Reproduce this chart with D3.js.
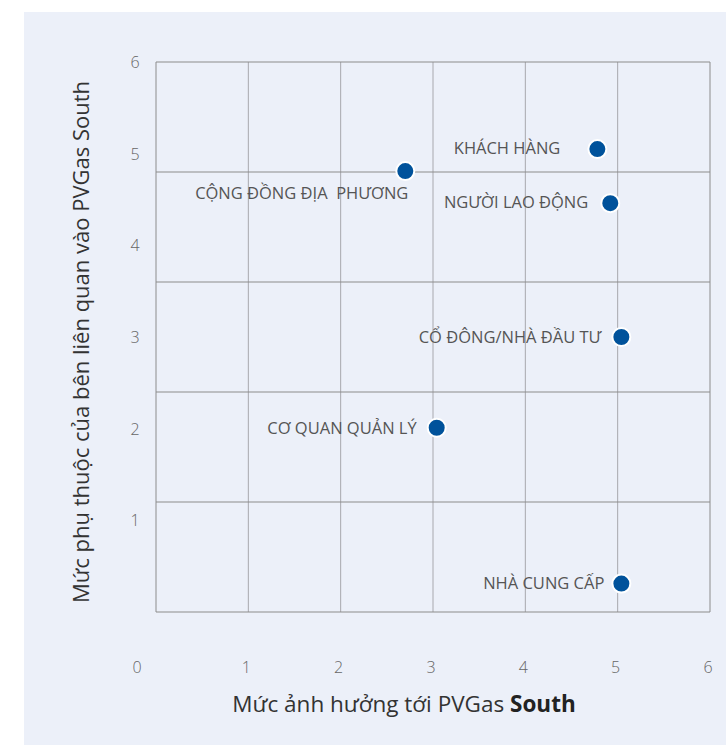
<!DOCTYPE html>
<html>
<head>
<meta charset="utf-8">
<script src="https://cdn.jsdelivr.net/npm/d3@7"></script>
<style>
  html, body { margin: 0; padding: 0; background: #fff; }
  text { font-family: "Open Sans", "Noto Sans", sans-serif; }
</style>
</head>
<body>
<div id="chart"></div>
<script>
// stakeholder map values
const stakeholders = [
  "KHÁCH HÀNG",
  "NGƯỜI LAO ĐỘNG",
  "CỘNG ĐỒNG ĐỊA  PHƯƠNG",
  "CỔ ĐÔNG/NHÀ ĐẦU TƯ",
  "CƠ QUAN QUẢN LÝ",
  "NHÀ CUNG CẤP",
];
const influence = [4.78, 4.92, 2.7, 5.04, 3.04, 5.04];
const dependence = [5.05, 4.46, 4.81, 3.0, 2.01, 0.31];

const x_ticks = [0, 1, 2, 3, 4, 5, 6];
const y_ticks = [1, 2, 3, 4, 5, 6];
const y_grid = [0, 1.2, 2.4, 3.6, 4.8, 6];

const x_title = "Mức ảnh hưởng tới PVGas ";
const x_title_bold = "South";
const y_title = "Mức phụ thuộc của bên liên quan vào PVGas South";

const width = 726;
const height = 745;
const margins = { left: 156, right: 16, top: 62, bottom: 133 };
const w = width - margins.left - margins.right;
const h = height - margins.top - margins.bottom;

// label placement relative to each dot (end-anchored)
const label_offsets = {
  "KHÁCH HÀNG": [-37, -2],
  "NGƯỜI LAO ĐỘNG": [-22, -2],
  "CỘNG ĐỒNG ĐỊA  PHƯƠNG": [3, 21],
  "CỔ ĐÔNG/NHÀ ĐẦU TƯ": [-20, -1],
  "CƠ QUAN QUẢN LÝ": [-20, 0],
  "NHÀ CUNG CẤP": [-17, -1],
};

const svg = d3
  .select("#chart")
  .append("svg")
  .attr("width", width)
  .attr("height", height);

svg
  .append("rect")
  .attr("x", 24)
  .attr("y", 12)
  .attr("width", width - 24)
  .attr("height", height - 12)
  .attr("fill", "#ecf0f9");

const g = svg
  .append("g")
  .attr("transform", `translate(${margins.left}, ${margins.top})`);

const X = d3.scaleLinear().domain([0, 6]).range([0, w]);
const Y = d3.scaleLinear().domain([0, 6]).range([h, 0]);

// grid
g.selectAll("line.vgrid")
  .data(x_ticks)
  .enter()
  .append("line")
  .attr("class", "vgrid")
  .attr("x1", (d) => X(d))
  .attr("x2", (d) => X(d))
  .attr("y1", 0)
  .attr("y2", h)
  .attr("stroke", (d) => (d === 0 || d === 6 ? "#8c8c8c" : "#a8a8ae"))
  .attr("stroke-width", 1);

g.selectAll("line.hgrid")
  .data(y_grid)
  .enter()
  .append("line")
  .attr("class", "hgrid")
  .attr("x1", 0)
  .attr("x2", w)
  .attr("y1", (d) => Y(d))
  .attr("y2", (d) => Y(d))
  .attr("stroke", "#8c8c8c")
  .attr("stroke-width", 1.2);

// tick labels
g.selectAll("text.xtick")
  .data(x_ticks)
  .enter()
  .append("text")
  .attr("class", "xtick")
  .attr("x", (d) => X(d) + (d === 0 ? -19 : -2))
  .attr("y", h + 55)
  .attr("text-anchor", "middle")
  .attr("dominant-baseline", "central")
  .attr("font-size", 16)
  .attr("font-weight", 300)
  .attr("fill", "#666")
  .text((d) => d);

g.selectAll("text.ytick")
  .data(y_ticks)
  .enter()
  .append("text")
  .attr("class", "ytick")
  .attr("x", -21)
  .attr("y", (d) => Y(d))
  .attr("text-anchor", "middle")
  .attr("dominant-baseline", "central")
  .attr("font-size", 16)
  .attr("font-weight", 300)
  .attr("fill", "#666")
  .text((d) => d);

// axis titles
const xt = g
  .append("text")
  .attr("x", w / 2 - 29)
  .attr("y", h + 91)
  .attr("text-anchor", "middle")
  .attr("dominant-baseline", "central")
  .attr("font-size", 22.5)
  .attr("fill", "#333");
xt.append("tspan").style("white-space", "pre").text(x_title);
xt.append("tspan").attr("font-weight", "bold").attr("fill", "#222").text(x_title_bold);

g.append("text")
  .attr("transform", `translate(-76, ${h / 2 + 5}) rotate(-90)`)
  .attr("text-anchor", "middle")
  .attr("dominant-baseline", "central")
  .attr("font-size", 22)
  .attr("fill", "#333")
  .text(y_title);

// points
const points = stakeholders.map((name, i) => ({
  name,
  x: influence[i],
  y: dependence[i],
}));

const pt = g
  .selectAll("g.point")
  .data(points)
  .enter()
  .append("g")
  .attr("class", "point")
  .attr("transform", (d) => `translate(${X(d.x)}, ${Y(d.y)})`);

pt.append("circle")
  .attr("r", 9)
  .attr("fill", "#00529b")
  .attr("stroke", "#fff")
  .attr("stroke-width", 2);

pt.append("text")
  .attr("x", (d) => label_offsets[d.name][0])
  .attr("y", (d) => label_offsets[d.name][1])
  .attr("text-anchor", "end")
  .attr("dominant-baseline", "central")
  .attr("font-size", 16.5)
  .attr("fill", "#555")
  .style("white-space", "pre")
  .text((d) => d.name);
</script>
</body>
</html>
